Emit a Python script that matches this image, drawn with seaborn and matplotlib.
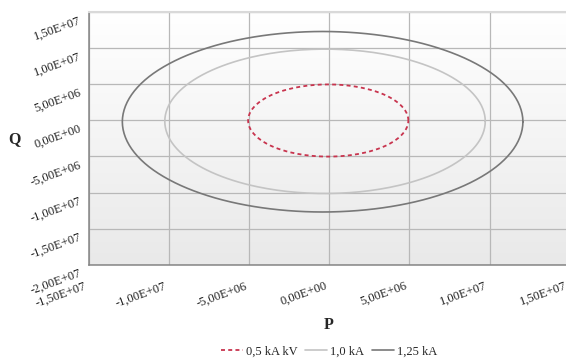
import numpy as np
import pandas as pd
import matplotlib
matplotlib.use("Agg")
import matplotlib.pyplot as plt
import seaborn as sns
from matplotlib import transforms
from matplotlib.colors import LinearSegmentedColormap
from matplotlib.lines import Line2D

# ---- data (values in MW / Mvar) ----
SERIES = ["0,5 kA kV", "1,0 kA", "1,25 kA"]

P_05 = [4.93, 4.76, 4.26, 3.47, 2.43, 1.22, -0.07, -1.36, -2.57, -3.61, -4.40, -4.90,
        -5.07, -4.90, -4.40, -3.61, -2.57, -1.36, -0.07, 1.22, 2.43, 3.47, 4.26, 4.76]
Q_05 = [-0.03, 1.26, 2.47, 3.51, 4.30, 4.80, 4.97, 4.80, 4.30, 3.51, 2.47, 1.26,
        -0.03, -1.32, -2.53, -3.57, -4.36, -4.86, -5.03, -4.86, -4.36, -3.57, -2.53, -1.32]

P_10 = [9.73, 9.39, 8.39, 6.80, 4.73, 2.32, -0.27, -2.86, -5.27, -7.34, -8.93, -9.93,
        -10.27, -9.93, -8.93, -7.34, -5.27, -2.86, -0.27, 2.32, 4.73, 6.80, 8.39, 9.39]
Q_10 = [-0.14, 2.45, 4.86, 6.93, 8.52, 9.52, 9.86, 9.52, 8.52, 6.93, 4.86, 2.45,
        -0.14, -2.73, -5.14, -7.21, -8.80, -9.80, -10.14, -9.80, -8.80, -7.21, -5.14, -2.73]

P_125 = [12.08, 11.65, 10.41, 8.42, 5.83, 2.82, -0.42, -3.66, -6.67, -9.26, -11.25, -12.49,
         -12.92, -12.49, -11.25, -9.26, -6.67, -3.66, -0.42, 2.82, 5.83, 8.42, 10.41, 11.65]
Q_125 = [-0.20, 3.04, 6.05, 8.64, 10.63, 11.87, 12.30, 11.87, 10.63, 8.64, 6.05, 3.04,
         -0.20, -3.44, -6.45, -9.04, -11.03, -12.27, -12.70, -12.27, -11.03, -9.04, -6.45, -3.44]

X_TICKS = [-1.5e7, -1.0e7, -5.0e6, 0.0, 5.0e6, 1.0e7, 1.5e7]
Y_TICKS = [-2.0e7, -1.5e7, -1.0e7, -5.0e6, 0.0, 5.0e6, 1.0e7, 1.5e7]
SCALE = 1e6

COLORS = ["#c8344e", "#c4c4c4", "#787878"]
STYLES = [(0, (2.2, 1.8)), "-", "-"]
WIDTHS = [1.3, 1.2, 1.2]


def smooth_closed(x, y, n=12):
    """Catmull-Rom rendering of a closed, smoothed line (like a 'smoothed' Excel line)."""
    p = np.column_stack([x, y])
    m = len(p)
    out = []
    t = np.linspace(0, 1, n, endpoint=False)[:, None]
    for i in range(m):
        p0, p1, p2, p3 = p[(i - 1) % m], p[i], p[(i + 1) % m], p[(i + 2) % m]
        seg = 0.5 * ((2 * p1) + (-p0 + p2) * t + (2 * p0 - 5 * p1 + 4 * p2 - p3) * t ** 2
                     + (-p0 + 3 * p1 - 3 * p2 + p3) * t ** 3)
        out.append(seg)
    out.append(p[:1])
    out = np.vstack(out)
    return out[:, 0], out[:, 1]


sns.set_style("white")
plt.rcParams["font.family"] = ["Liberation Serif", "DejaVu Serif"]

FS = 9.0
W, H = 566, 358
fig = plt.figure(figsize=(W / 100, H / 100), dpi=100)
left_px, right_px, top_px, bot_px = 89, 569.7, 12, 264.7
ax = fig.add_axes([left_px / W, (H - bot_px) / H, (right_px - left_px) / W, (bot_px - top_px) / H])

# gradient background
cmap = LinearSegmentedColormap.from_list("bg", ["#e9e9e9", "#ffffff"])
grad = np.linspace(1, 0, 256)[:, None]
ax.imshow(grad, extent=[0, 1, 0, 1], transform=ax.transAxes, cmap=cmap,
          aspect="auto", zorder=0, interpolation="bilinear")

for name, px, qy, c, ls, lw in zip(SERIES, [P_05, P_10, P_125], [Q_05, Q_10, Q_125],
                                   COLORS, STYLES, WIDTHS):
    xs, ys = smooth_closed(np.array(px) * SCALE, np.array(qy) * SCALE)
    df = pd.DataFrame({"P": xs, "Q": ys})
    sns.lineplot(data=df, x="P", y="Q", sort=False, estimator=None, color=c,
                 linestyle=ls, linewidth=lw, ax=ax, zorder=3, legend=False)

ax.set_xlim(-1.5e7, 1.5e7)
ax.set_ylim(-2.0e7, 1.5e7)
ax.set_xticks(X_TICKS)
ax.set_yticks(Y_TICKS)
fmt = lambda v: f"{v:.2E}".replace(".", ",")
ax.set_xticklabels([fmt(v) for v in X_TICKS])
ax.set_yticklabels([fmt(v) for v in Y_TICKS])
ax.set_xlabel("")
ax.set_ylabel("")

ax.set_axisbelow(True)
ax.grid(True, color="#b8b8b8", linewidth=0.9)
for s in ["left", "bottom"]:
    ax.spines[s].set_color("#858585")
    ax.spines[s].set_linewidth(1.1)
ax.spines["top"].set_color("#d9d9d9")
ax.spines["top"].set_linewidth(1.5)
ax.spines["right"].set_visible(False)

ax.tick_params(axis="both", length=0, labelsize=FS, colors="#222222")
ax.tick_params(axis="x", pad=11.0)
ax.tick_params(axis="y", pad=7.6)

dx = transforms.ScaledTranslation(-5 / 100, 0, fig.dpi_scale_trans)
for lab in ax.get_xticklabels():
    lab.set_rotation(20)
    lab.set_rotation_mode("anchor")
    lab.set_ha("right")
    lab.set_va("top")
    lab.set_transform(lab.get_transform() + dx)
dy = transforms.ScaledTranslation(0, -2.5 / 100, fig.dpi_scale_trans)
for lab in ax.get_yticklabels():
    lab.set_rotation(20)
    lab.set_rotation_mode("anchor")
    lab.set_ha("right")
    lab.set_va("top")
    lab.set_transform(lab.get_transform() + dy)

fig.text(329 / W, 1 - 325 / H, "P", ha="center", va="center", fontsize=11.5, fontweight="bold")
fig.text(14 / W, 1 - 139 / H, "Q", ha="center", va="center", fontsize=11.5, fontweight="bold")

handles = [Line2D([], [], color=c, linestyle=ls, linewidth=lw)
           for c, ls, lw in zip(COLORS, STYLES, WIDTHS)]
fig.legend(handles, SERIES, loc="center", bbox_to_anchor=(329 / W, 1 - 351.5 / H),
           ncol=3, frameon=False, fontsize=FS, handlelength=1.75, handletextpad=0.25,
           columnspacing=0.6, borderpad=0, borderaxespad=0)

fig.savefig("out.png", dpi=100)
